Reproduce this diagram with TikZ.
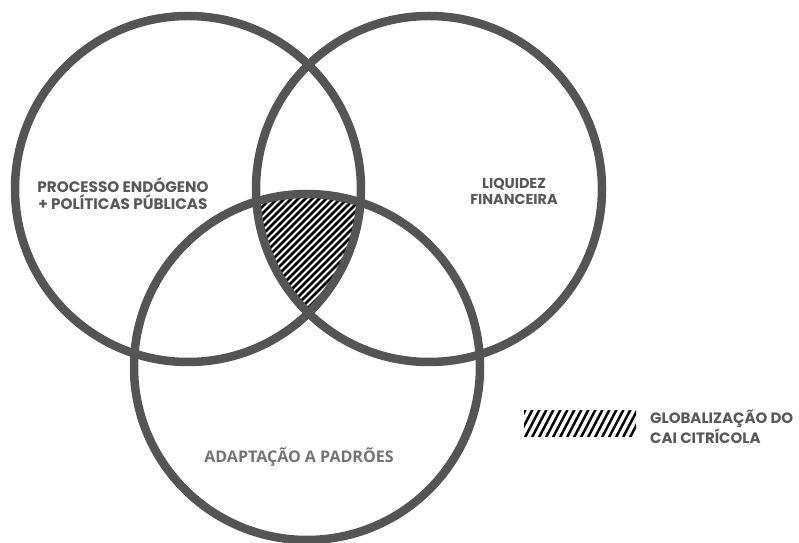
\documentclass[tikz,border=0pt]{standalone}
\usepackage{fontspec}
\setmainfont{Poppins}
\newfontfamily\opensans{Open Sans}
\usepackage{tikz}
\usetikzlibrary{positioning}
\definecolor{ringgray}{RGB}{85,85,85}
\definecolor{labelgray}{RGB}{88,88,88}
\definecolor{softgray}{RGB}{115,115,115}

\begin{document}
\begin{tikzpicture}[x=0.03cm, y=-0.03cm,
  ring/.style={draw=ringgray, line width=0.255cm},
  hatch/.style={black, line width=0.075cm},
  lbl/.style={text=labelgray, font=\fontsize{12.5}{14.5}\selectfont\bfseries,
              align=center, inner sep=0pt}]

  \useasboundingbox (0,0) rectangle (799,543);

  % ---------- centres ----------
  \coordinate (cl) at (188,189);
  \coordinate (cr) at (429,189);
  \coordinate (cb) at (307,367);

  % ---------- common part, hatched ----------
  \begin{scope}
    \clip (cl) circle[radius=173];
    \clip (cr) circle[radius=173];
    \clip (cb) circle[radius=173];
    \foreach \c in {350,357,...,750}{
      \draw[hatch] ({\c-350},350) -- ({\c-150},150);
    }
  \end{scope}

  % ---------- rings ----------
  \draw[ring] (cl) circle[radius=173];
  \draw[ring] (cr) circle[radius=173];
  \draw[ring] (cb) circle[radius=173];

  % ---------- labels ----------
  \node[lbl, font=\fontsize{13}{14.5}\selectfont\bfseries]
    (endo) at (123,193.5) {PROCESSO ENDÓGENO\\+ POLÍTICAS PÚBLICAS};
  \node[lbl, font=\fontsize{12.3}{13.5}\selectfont\bfseries]
    (liq) at (514,191.5) {LIQUIDEZ\\FINANCEIRA};
  \node[lbl, text=softgray, font=\opensans\fontsize{13.7}{15}\selectfont\bfseries]
    (adap) at (299,457) {ADAPTAÇÃO A PADRÕES};

  % ---------- legend ----------
  \begin{scope}
    \clip (524,411) rectangle (636,437);
    \foreach \c in {500,507,...,680}{
      \draw[hatch] (\c,445) -- ({\c+22},403);
    }
  \end{scope}
  \node[lbl, anchor=west, align=left, font=\fontsize{12.8}{12}\selectfont\bfseries]
    (glob) at (650,427) {GLOBALIZAÇÃO DO\\CAI CITRÍCOLA};
\end{tikzpicture}
\end{document}
